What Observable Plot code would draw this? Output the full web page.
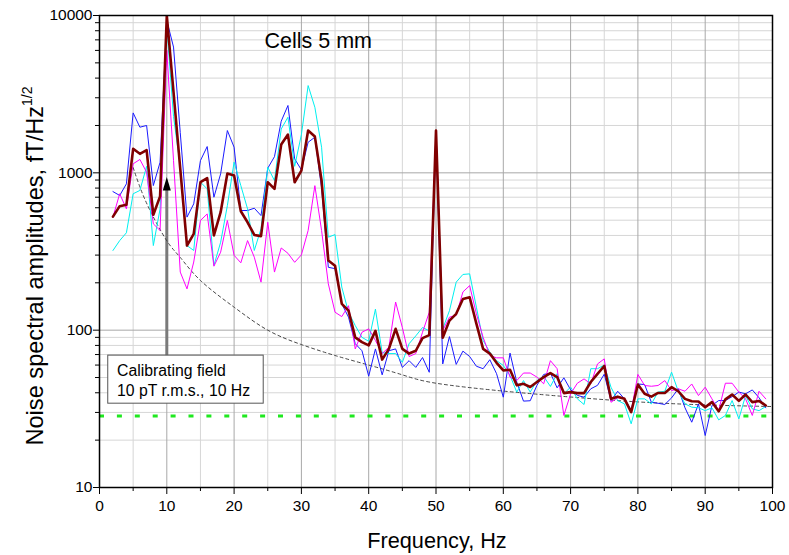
<!DOCTYPE html>
<html><head><meta charset="utf-8">
<script src="https://cdn.jsdelivr.net/npm/d3@7"></script>
<script src="https://cdn.jsdelivr.net/npm/@observablehq/plot@0.6"></script>
<style>body{margin:0;background:#fff;} svg{display:block;}</style>
</head><body>
<script>
const freqs = [2,3,4,5,6,7,8,9,10,11,12,13,14,15,16,17,18,19,20,21,22,23,24,25,26,27,28,29,30,31,32,33,34,35,36,37,38,39,40,41,42,43,44,45,46,47,48,49,50,51,52,53,54,55,56,57,58,59,60,61,62,63,64,65,66,67,68,69,70,71,72,73,74,75,76,77,78,79,80,81,82,83,84,85,86,87,88,89,90,91,92,93,94,95,96,97,98,99];
const blueSeries = [760,718,851,2404,1950,2000,830,1168,9300,6300,1800,523,635,1197,1469,700,985,1857,1455,576,576,596,535,1070,1267,2128,2679,1227,1044,1565,1683,800,251,246,147,121,82,74,51,76,52,74,76,58,64,58,67,54,1850,61,91,60.6,73.6,68,59,56.9,64.9,52.9,37.5,71.5,46.8,35.4,35.6,44.6,52.3,53.4,43,49.8,41.8,38.5,37.5,42.4,44.6,52.5,35.7,40.9,36.6,31.1,45.5,45.1,34.8,34.3,33.7,37.1,42.4,32.1,26,34,21.4,33.2,35.7,35.7,37.8,40.4,39.4,41.7,37.2,32.1];
const cyanSeries = [321,371,416,736,773,1100,345,590,8500,2280,1100,345,321,873,791,258,362,619,1169,829,590,321,441,1086,893,1900,2256,1100,1750,3586,2610,1455,390,405,188,130,107,90,85,136,72,71,71,62.5,82,92,104,99,1850,102,133,202,226,228,140,86,72.5,64,59.7,51.6,40.4,47.8,40.4,47.8,50.8,43.9,52.9,39.4,43.5,36.6,33.7,56.9,56.9,60,43.4,35.7,34,25.4,36.6,36.6,34,40.4,40.9,54.1,40.9,34,32.4,32.1,30.8,32.1,26.9,28.7,35.7,27.3,38.4,31.6,30.8,32.7];
const magentaSeries = [523,736,590,1141,1216,1009,474,430,6000,1200,234,183,271,498,548,255,313,498,299,268,371,291,202,485,234,333,308,270,301,430,829,430,197,130,122,143,76,97,102,86,71,78,151,104,68,71,97,130,1850,99.5,121,124,175,192,127,90,69,66.7,66.7,50.3,47.8,53.4,53.4,50.3,45.6,64,56.9,28.7,39.4,46,49,45.6,61,65.7,34.8,37.2,37.1,30.5,52.3,44.5,44,44.5,47.8,41.3,42.4,40.9,45.5,38.4,43.4,36.6,30.8,46,46,40.4,36.6,28.7,40.9,36.6];
const meanSeries = [527,614,626,1421,1321,1394,541,708,10000,3260,1060,345,409,873,925,400,562,991,962,570,485,403,396,872,790,1512,1750,871,1033,1857,1700,893,277,257,147,133,90,84,80,99,65,76,102,76,71,74,89,93,1860,89.5,115,127,158,162,110,76,71,62,55.5,56,44.6,45.6,43.5,46.8,50.3,53.4,50.3,39.8,40.4,39.8,39.8,46.8,52.8,59.2,36.6,37.8,36.6,30.1,45.1,39.4,37.8,39.9,39.9,43.4,40.9,36.6,35.3,35.2,32.4,34.9,30.5,36.3,39.0,35.5,39.0,34.9,35.5,33.2];
const fitFreqs = [5,6,7.5,10,12,15,20,25,30,35,40,45,50,60,70,80,90,100];
const fitValues = [1080,814,578,370,290,207,140,100,81,69,60,52,46,41,37.6,35,33.5,32.7];
const sensitivityLevel = [28.5];
const calibFreq = [10];
const xMajorTicks = [0,10,20,30,40,50,60,70,80,90,100];
const xMinorTicks = [5,15,25,35,45,55,65,75,85,95];
const yMajorTicks = [10,100,1000,10000];
const yMinorTicks = [20,30,40,50,60,70,80,90,200,300,400,500,600,700,800,900,2000,3000,4000,5000,6000,7000,8000,9000];
const panelLabel = "Cells 5 mm";
const calibText = "Calibrating field\n10 pT r.m.s., 10 Hz";

const narrowTriangle = {draw(ctx){ctx.moveTo(0,-7);ctx.lineTo(4,6.5);ctx.lineTo(-4,6.5);ctx.closePath();}};
const series = (vals, color, w) => Plot.line(vals, {x: freqs, y: vals, stroke: color, strokeWidth: w, clip: true});

const chart = Plot.plot({
  width: 789, height: 555,
  marginLeft: 99, marginRight: 17, marginTop: 15, marginBottom: 68,
  x: {domain: [0, 100]},
  y: {type: "log", domain: [10, 10000]},
  style: {fontFamily: "'Liberation Sans', Arial, sans-serif", fontSize: "15px", color: "black", background: "white"},
  marks: [
    Plot.ruleX(xMinorTicks, {stroke: "#d6d6d6", strokeWidth: 1}),
    Plot.ruleY(yMinorTicks, {stroke: "#d6d6d6", strokeWidth: 1}),
    Plot.ruleX(xMajorTicks.slice(1, -1), {stroke: "#a8a8a8", strokeWidth: 1}),
    Plot.ruleY([100, 1000], {stroke: "#a8a8a8", strokeWidth: 1}),
    Plot.ruleX(calibFreq, {y1: 40, y2: 830, stroke: "#7a7a7a", strokeWidth: 3}),
    Plot.line(fitValues, {x: fitFreqs, y: fitValues, curve: "natural", stroke: "#333", strokeWidth: 0.9, strokeDasharray: "3,3"}),
    Plot.ruleY(sensitivityLevel, {stroke: "#1fe81f", strokeWidth: 3, strokeDasharray: "5,12.9"}),
    series(blueSeries, "#1a1aff", 1),
    series(cyanSeries, "#00f0f0", 1),
    series(magentaSeries, "#ff00ff", 1),
    series(meanSeries, "#800000", 2.6),
    Plot.dot(calibFreq, {x: d => d, y: () => 849, symbol: narrowTriangle, fill: "black", stroke: null}),
    Plot.rect([0], {x1: () => 1.3, x2: () => 24.4, y1: () => 34.1, y2: () => 68.9, fill: "white", stroke: "#555", strokeWidth: 1}),
    Plot.text([calibText], {x: () => 2.6, y: () => 48.5, text: d => d, textAnchor: "start", fontSize: 15.8, lineHeight: 1.27, fill: "black"}),
    Plot.text([panelLabel], {x: () => 32.5, y: () => 6900, text: d => d, fontSize: 21.5, fill: "black", ariaLabel: "panel-label"}),
    Plot.frame({stroke: "black", strokeWidth: 1.5}),
    Plot.axisX(xMinorTicks, {tickSize: 4, tickFormat: () => "", label: null}),
    Plot.axisX(xMajorTicks, {tickSize: 7, tickPadding: 5, tickFormat: d => String(d), label: null, fontSize: 15.5}),
    Plot.axisY(yMinorTicks, {tickSize: 4, tickFormat: () => "", label: null}),
    Plot.axisY(yMajorTicks, {tickSize: 6, tickPadding: 1, tickFormat: d => String(d), label: null, fontSize: 15.5})
  ]
});
document.body.append(chart);

const svg = d3.select(chart);
// white background behind the panel label
const lab = svg.select('g[aria-label="panel-label"]');
if (!lab.empty()) {
  const bb = lab.node().getBBox();
  svg.insert("rect", 'g[aria-label="panel-label"]')
    .attr("x", bb.x - 9).attr("y", bb.y - 3).attr("width", bb.width + 18).attr("height", bb.height + 6)
    .attr("fill", "white");
}
// axis titles
svg.append("text").attr("x", 437).attr("y", 548).attr("text-anchor", "middle")
  .attr("font-size", 21.7).attr("fill", "black").text("Frequency, Hz");
const yt = svg.append("text").attr("transform", "translate(43,266) rotate(-90)").attr("text-anchor", "middle")
  .attr("font-size", 23.6).attr("fill", "black");
yt.append("tspan").text("Noise spectral amplitudes, fT/Hz");
yt.append("tspan").attr("font-size", 14).attr("dy", -11).text("1/2");
</script>
</body></html>
